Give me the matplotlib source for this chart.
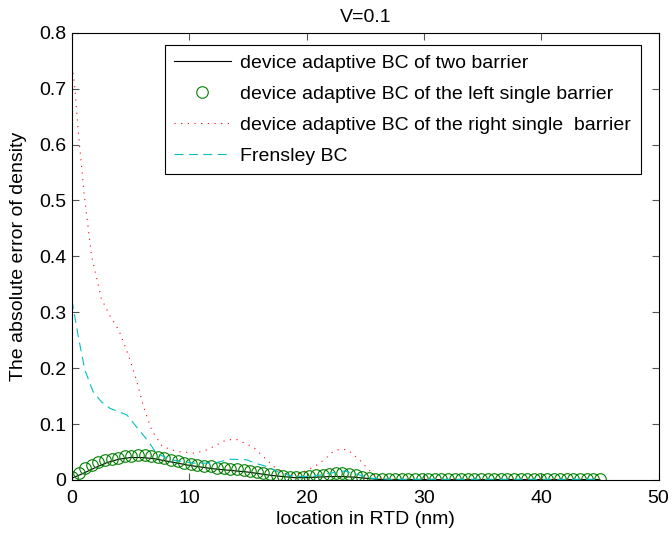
import matplotlib.pyplot as plt

plt.rcParams['font.family'] = ['Liberation Sans', 'DejaVu Sans']

# device adaptive BC of two barrier (black solid)
x_two = [0, 1, 2, 3, 4, 5, 6, 7, 8, 9, 10, 11, 12, 13, 14, 15, 16, 17, 18,
         19, 20, 21, 22, 23, 24, 25, 26, 27, 45]
y_two = [0.003, 0.012, 0.022, 0.031, 0.037, 0.040, 0.040, 0.038, 0.034,
         0.030, 0.026, 0.023, 0.020, 0.018, 0.016, 0.014, 0.011, 0.008,
         0.006, 0.004, 0.004, 0.005, 0.006, 0.006, 0.005, 0.003, 0.001,
         0.0005, 0.0005]

# device adaptive BC of the left single barrier (green circles), 81 grid points on 0..45 nm
x_left = [45 * i / 80 for i in range(81)]
y_left = [0.005, 0.013, 0.021, 0.027, 0.032, 0.035, 0.038, 0.040, 0.042,
          0.043, 0.044, 0.044, 0.043, 0.041, 0.039, 0.036, 0.034, 0.031,
          0.029, 0.027, 0.025, 0.024, 0.022, 0.021, 0.020, 0.019, 0.018,
          0.016, 0.015, 0.013, 0.011, 0.009, 0.007, 0.006, 0.006, 0.006,
          0.007, 0.008, 0.009, 0.011, 0.012, 0.012, 0.011, 0.009, 0.006,
          0.004, 0.002, 0.001,
          0.001, 0.001, 0.001, 0.001, 0.001, 0.001, 0.001, 0.001, 0.001,
          0.001, 0.001, 0.001, 0.001, 0.001, 0.001, 0.001, 0.001, 0.001,
          0.001, 0.001, 0.001, 0.001, 0.001, 0.001, 0.001, 0.001, 0.001,
          0.001, 0.001, 0.001, 0.001, 0.001, 0.001]

# device adaptive BC of the right single barrier (red dotted)
x_right = [0, 0.15, 0.26, 0.4, 0.62, 0.83, 1.03, 1.68, 2.5, 3.2, 4.0, 4.8,
           5.5, 6.1, 6.8, 7.7, 8.9, 10.4, 11.3, 12.1, 13.2, 14.1, 15.5,
           16.4, 17.2, 18.0, 18.6, 19.5, 20.3, 20.9, 21.5, 22.1, 22.8,
           23.5, 24.0, 24.6, 25.3, 25.9, 26.5, 27, 45]
y_right = [0.74, 0.72, 0.70, 0.66, 0.605, 0.56, 0.513, 0.40, 0.325,
           0.295, 0.268, 0.224, 0.179, 0.131, 0.089, 0.060, 0.051, 0.048,
           0.052, 0.060, 0.072, 0.072, 0.058, 0.040, 0.024, 0.012, 0.009,
           0.012, 0.020, 0.027, 0.036, 0.048, 0.055, 0.054, 0.045, 0.034,
           0.018, 0.006, 0.002, 0.001, 0.001]

# Frensley BC (cyan dashed)
x_fren = [0, 0.54, 1.1, 1.8, 2.5, 3.25, 4.0, 4.7, 5.5, 6.4, 7.2, 8.4, 10.4,
          12.1, 13.5, 14.9, 15.6, 16.6, 17.8, 19, 20.5, 22, 23.2, 24.3,
          25.5, 27, 45]
y_fren = [0.322, 0.257, 0.197, 0.158, 0.14, 0.128, 0.122, 0.116, 0.095,
          0.072, 0.048, 0.036, 0.030, 0.030, 0.037, 0.036, 0.030, 0.024,
          0.012, 0.006, 0.006, 0.012, 0.016, 0.010, 0.003, 0.001, 0.001]

fig = plt.figure(figsize=(6.72, 5.38), dpi=100)
ax = fig.add_axes([0.107, 0.108, 0.873, 0.831])

ax.plot(x_two, y_two, color='black', lw=0.8,
        label='device adaptive BC of two barrier')
ax.plot(x_left, y_left, 'o', mfc='none', mec='#008000', ms=8.3, mew=0.8,
        label='device adaptive BC of the left single barrier')
ax.plot(x_right, y_right, color='red', lw=0.8, dashes=(1, 5),
        label='device adaptive BC of the right single  barrier')
ax.plot(x_fren, y_fren, color='#00bfbf', lw=0.8, dashes=(8, 5),
        label='Frensley BC')

ax.set_xlim(0, 50)
ax.set_ylim(0, 0.8)
ax.set_xticks([0, 10, 20, 30, 40, 50])
ax.set_yticks([0, 0.1, 0.2, 0.3, 0.4, 0.5, 0.6, 0.7, 0.8])
ax.set_yticklabels(['0', '0.1', '0.2', '0.3', '0.4', '0.5', '0.6', '0.7', '0.8'])
ax.tick_params(direction='in', top=True, right=True, length=5, labelsize=14,
               color='#555555')
ax.tick_params(axis='x', pad=7)
ax.tick_params(axis='y', pad=4)
for s in ax.spines.values():
    s.set_linewidth(0.8)

ax.set_title('V=0.1', fontsize=14, pad=8)
ax.set_xlabel('location in RTD (nm)', fontsize=14, labelpad=3)
ax.set_ylabel('The absolute error of density', fontsize=14, labelpad=9)

leg = ax.legend(loc='upper right', bbox_to_anchor=(0.97, 0.973), fontsize=14,
                fancybox=False, edgecolor='black', framealpha=1,
                handlelength=2.9, handletextpad=0.5, borderaxespad=0,
                labelspacing=0.68, borderpad=0.5)
leg.get_frame().set_linewidth(0.8)

plt.savefig('out.png', dpi=100)
